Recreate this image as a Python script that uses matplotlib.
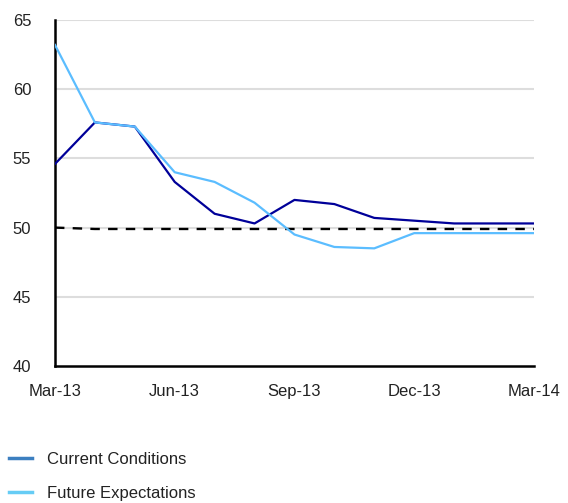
import matplotlib
matplotlib.use("Agg")
import matplotlib.pyplot as plt

months = ["Mar-13", "Apr-13", "May-13", "Jun-13", "Jul-13", "Aug-13", "Sep-13",
          "Oct-13", "Nov-13", "Dec-13", "Jan-14", "Feb-14", "Mar-14"]
current = [54.6, 57.6, 57.3, 53.3, 51.0, 50.3, 52.0, 51.7, 50.7, 50.5, 50.3, 50.3, 50.3]
future = [63.2, 57.6, 57.3, 54.0, 53.3, 51.8, 49.5, 48.6, 48.5, 49.6, 49.6, 49.6, 49.6]
neutral = [50.0, 49.9, 49.9, 49.9, 49.9, 49.9, 49.9, 49.9, 49.9, 49.9, 49.9, 49.9, 49.9]
tick_labels = ["Mar-13", "Jun-13", "Sep-13", "Dec-13", "Mar-14"]
y_ticks = [40, 45, 50, 55, 60, 65]

plt.rcParams["font.family"] = ["Liberation Sans Narrow", "Liberation Sans", "DejaVu Sans"]

fig = plt.figure(figsize=(5.68, 5.03), dpi=100)
ax = fig.add_axes([0.0968, 0.2724, 0.8432, 0.6878])

x = list(range(len(months)))
for yv in y_ticks[1:]:
    ax.axhline(yv, color="#dddddd", linewidth=1.5, zorder=0)

ax.plot(x, neutral, color="black", linestyle=(0, (4, 3.5)), linewidth=1.7, zorder=2)
ax.plot(x, current, color="#000099", linewidth=1.6, label="Current Conditions", zorder=3)
ax.plot(x, future, color="#5bbdff", linewidth=1.6, label="Future Expectations", zorder=3)

ax.set_xlim(0, len(months) - 1)
ax.set_ylim(40, 65)
ax.set_yticks(y_ticks)
ax.set_xticks([months.index(m) for m in tick_labels])
ax.set_xticklabels(tick_labels)
ax.tick_params(length=0, labelsize=12, colors="#222222")
ax.tick_params(axis="y", pad=17)
ax.tick_params(axis="x", pad=13)

for side in ["top", "right"]:
    ax.spines[side].set_visible(False)
for side in ["left", "bottom"]:
    ax.spines[side].set_linewidth(1.8)
    ax.spines[side].set_color("black")

leg = fig.legend(loc="upper left", bbox_to_anchor=(0.016, 0.101), frameon=False,
                 fontsize=12, handlelength=1.4, handletextpad=0.9, labelspacing=1.1,
                 borderaxespad=0, borderpad=0)
for line, c in zip(leg.get_lines(), ["#3c7fc0", "#66ccf5"]):
    line.set_color(c)
    line.set_linewidth(2.5)
for t in leg.get_texts():
    t.set_color("#222222")

fig.savefig("out.png", dpi=100)
